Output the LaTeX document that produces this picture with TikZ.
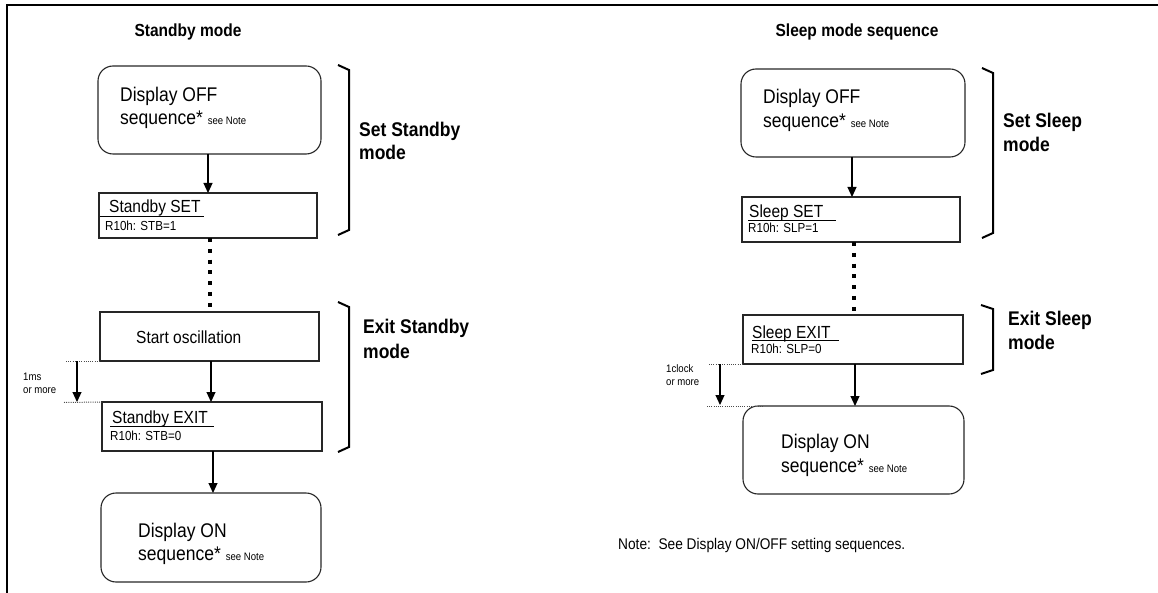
\documentclass[tikz,border=0pt]{standalone}
\usepackage{fontspec}
\setmainfont{Liberation Sans}
\usetikzlibrary{arrows.meta}
\tikzset{
  box/.style={draw=black!85, line width=1.1pt, inner sep=0pt, outer sep=0pt},
  rbox/.style={box, rounded corners=15pt},
  arr/.style={line width=1.1pt, -{Triangle[length=10pt,width=9pt]}},
  thickdots/.style={line width=4.5pt, dash pattern=on 4pt off 6.8pt},
  thindots/.style={line width=1pt, black!70, dash pattern=on 1pt off 1.2pt},
  brk/.style={line width=2pt, line join=miter},
  bt/.style={anchor=base west, inner sep=0pt},
  bigf/.style={font=\fontsize{17.5}{20}\selectfont},
  midf/.style={font=\fontsize{15.5}{18}\selectfont},
  regf/.style={font=\fontsize{11.6}{14}\selectfont},
  smallf/.style={font=\fontsize{9.6}{11}\selectfont},
  notef/.style={font=\fontsize{13.7}{16}\selectfont},
  boldf/.style={font=\fontsize{17.5}{20}\selectfont\bfseries},
  titf/.style={font=\fontsize{15.5}{18}\selectfont\bfseries},
}
\newcommand{\seenote}{{\fontsize{9.6}{11}\selectfont see Note}}
\newcommand{\V}[1]{\scalebox{1}[1.13]{#1}}
\begin{document}
\begin{tikzpicture}[x=1pt,y=-1pt]
\useasboundingbox (0,0) rectangle (1158,593);
% frame
\draw[line width=2pt] (6,5) -- (1158,5);
\draw[line width=2pt] (7,5) -- (7,593);

% ---------------- Left: Standby mode ----------------
\node[titf, anchor=base, inner sep=0pt] (titL) at (188,37) {\V{Standby mode}};

\node[rbox, minimum width=223pt, minimum height=88pt] (offL) at (209.5,110) {};
\node[bt, bigf] (offL1) at (120,102) {\V{Display OFF}};
\node[bt, bigf] (offL2) at (120,125) {\V{sequence* \seenote}};

\node[box, minimum width=218pt, minimum height=45pt] (setL) at (208,215.5) {};
\node[bt, midf] (setL1) at (109,213) {\V{Standby SET}};
\draw[line width=1pt] (100,217) -- (204,217);
\node[bt, regf] (setL2) at (105,231) {\V{R10h: STB=1}};

\node[box, minimum width=219pt, minimum height=49pt] (oscL) at (209.5,336.5) {};
\node[bt, midf] (oscL1) at (136,343) {\V{Start oscillation}};

\node[box, minimum width=220pt, minimum height=49pt] (exitL) at (212,426.5) {};
\node[bt, midf] (exitL1) at (112,423) {\V{Standby EXIT}};
\draw[line width=1pt] (110,426) -- (214,426);
\node[bt, regf] (exitL2) at (110,440) {\V{R10h: STB=0}};

\node[rbox, minimum width=220pt, minimum height=89pt] (onL) at (211,537.5) {};
\node[bt, bigf] (onL1) at (138,537) {\V{Display ON}};
\node[bt, bigf] (onL2) at (138,560) {\V{sequence* \seenote}};

\draw[arr] (setL.north |- offL.south) -- (setL.north);
\draw[thickdots] ([xshift=2pt]setL.south) -- ([xshift=2pt]setL.south |- oscL.north);
\draw[arr] ([xshift=1.5pt]oscL.south) -- ([xshift=1.5pt]oscL.south |- exitL.north);
\draw[arr] ([xshift=1pt]exitL.south) -- ([xshift=1pt]exitL.south |- onL.north);

% timing
\coordinate (tL1) at (66,361);
\coordinate (tL2) at (64,402.5);
\draw[thindots] (tL1) -- (oscL.south west);
\draw[thindots] (tL2) -- (exitL.north west);
\coordinate (taL1) at (77,361);
\coordinate (taL2) at (77,402);
\draw[arr] (taL1) -- (taL2);
\node[bt, smallf] (msL1) at (23,380) {\V{1ms}};
\node[bt, smallf] (msL2) at (23,393) {\V{or more}};

% brackets
\draw[brk] (338,65) -- (349,70) -- (349,230) -- (338,235);
\draw[brk] (338,302) -- (349,307) -- (349,447) -- (338,452);
\node[bt, boldf] (sbL1) at (359,137) {\V{Set Standby}};
\node[bt, boldf] (sbL2) at (359,160) {\V{mode}};
\node[bt, boldf] (ebL1) at (363,334) {\V{Exit Standby}};
\node[bt, boldf] (ebL2) at (363,358) {\V{mode}};

% ---------------- Right: Sleep mode ----------------
\node[titf, anchor=base, inner sep=0pt] (titR) at (857,37) {\V{Sleep mode sequence}};

\node[rbox, minimum width=224pt, minimum height=88pt] (offR) at (853,113) {};
\node[bt, bigf] (offR1) at (763,104) {\V{Display OFF}};
\node[bt, bigf] (offR2) at (763,128) {\V{sequence* \seenote}};

\node[box, minimum width=218pt, minimum height=45pt] (setR) at (851,219.5) {};
\node[bt, midf] (setR1) at (749,218) {\V{Sleep SET}};
\draw[line width=1pt] (748,221) -- (836,221);
\node[bt, regf] (setR2) at (748,233) {\V{R10h: SLP=1}};

\node[box, minimum width=220pt, minimum height=49pt] (exitR) at (853,339.5) {};
\node[bt, midf] (exitR1) at (752,338) {\V{Sleep EXIT}};
\draw[line width=1pt] (752,340) -- (839,340);
\node[bt, regf] (exitR2) at (751,353) {\V{R10h: SLP=0}};

\node[rbox, minimum width=221pt, minimum height=88pt] (onR) at (853.5,450) {};
\node[bt, bigf] (onR1) at (781,448) {\V{Display ON}};
\node[bt, bigf] (onR2) at (781,472) {\V{sequence* \seenote}};

\draw[arr] ([xshift=1pt]setR.north |- offR.south) -- ([xshift=1pt]setR.north);
\draw[thickdots] ([xshift=3pt]setR.south) -- ([xshift=3pt]setR.south |- exitR.north);
\draw[arr] ([xshift=2pt]exitR.south) -- ([xshift=2pt]exitR.south |- onR.north);

% timing
\coordinate (tR1) at (709,364);
\coordinate (tR2) at (707,406);
\coordinate (tR3) at (763,406);
\draw[thindots] (tR1) -- (exitR.south west);
\draw[thindots] (tR2) -- (tR3);
\coordinate (taR1) at (720,364);
\coordinate (taR2) at (720,405);
\draw[arr] (taR1) -- (taR2);
\node[bt, smallf] (clkR1) at (666,372) {\V{1clock}};
\node[bt, smallf] (clkR2) at (666,385) {\V{or more}};

% brackets
\draw[brk] (982,68) -- (993,73) -- (993,233) -- (982,238);
\draw[brk] (981,305) -- (993,309) -- (993,370) -- (981,374);
\node[bt, boldf] (sbR1) at (1003,128) {\V{Set Sleep}};
\node[bt, boldf] (sbR2) at (1003,152) {\V{mode}};
\node[bt, boldf] (ebR1) at (1008,325) {\V{Exit Sleep}};
\node[bt, boldf] (ebR2) at (1008,349) {\V{mode}};

\node[bt, notef] (note) at (618,549) {\V{Note:\ \ See Display ON/OFF setting sequences.}};
\end{tikzpicture}
\end{document}
